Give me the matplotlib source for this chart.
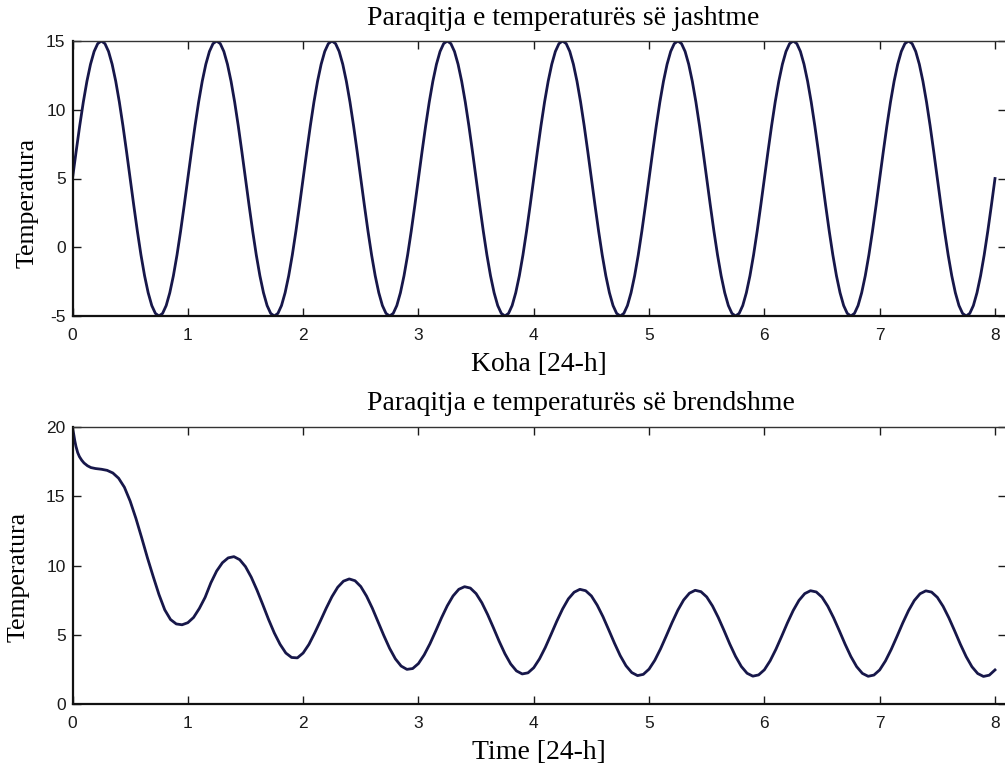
import numpy as np
import matplotlib
matplotlib.use("Agg")
import matplotlib.pyplot as plt

# outside temperature (32 samples per day)
temp_out = [
    5.0, 6.95, 8.83, 10.56, 12.07, 13.31, 14.24, 14.81, 15.0, 14.81, 14.24, 13.31, 12.07, 10.56, 8.83, 6.95,
    5.0, 3.05, 1.17, -0.56, -2.07, -3.31, -4.24, -4.81, -5.0, -4.81, -4.24, -3.31, -2.07, -0.56, 1.17, 3.05,
    5.0, 6.95, 8.83, 10.56, 12.07, 13.31, 14.24, 14.81, 15.0, 14.81, 14.24, 13.31, 12.07, 10.56, 8.83, 6.95,
    5.0, 3.05, 1.17, -0.56, -2.07, -3.31, -4.24, -4.81, -5.0, -4.81, -4.24, -3.31, -2.07, -0.56, 1.17, 3.05,
    5.0, 6.95, 8.83, 10.56, 12.07, 13.31, 14.24, 14.81, 15.0, 14.81, 14.24, 13.31, 12.07, 10.56, 8.83, 6.95,
    5.0, 3.05, 1.17, -0.56, -2.07, -3.31, -4.24, -4.81, -5.0, -4.81, -4.24, -3.31, -2.07, -0.56, 1.17, 3.05,
    5.0, 6.95, 8.83, 10.56, 12.07, 13.31, 14.24, 14.81, 15.0, 14.81, 14.24, 13.31, 12.07, 10.56, 8.83, 6.95,
    5.0, 3.05, 1.17, -0.56, -2.07, -3.31, -4.24, -4.81, -5.0, -4.81, -4.24, -3.31, -2.07, -0.56, 1.17, 3.05,
    5.0, 6.95, 8.83, 10.56, 12.07, 13.31, 14.24, 14.81, 15.0, 14.81, 14.24, 13.31, 12.07, 10.56, 8.83, 6.95,
    5.0, 3.05, 1.17, -0.56, -2.07, -3.31, -4.24, -4.81, -5.0, -4.81, -4.24, -3.31, -2.07, -0.56, 1.17, 3.05,
    5.0, 6.95, 8.83, 10.56, 12.07, 13.31, 14.24, 14.81, 15.0, 14.81, 14.24, 13.31, 12.07, 10.56, 8.83, 6.95,
    5.0, 3.05, 1.17, -0.56, -2.07, -3.31, -4.24, -4.81, -5.0, -4.81, -4.24, -3.31, -2.07, -0.56, 1.17, 3.05,
    5.0, 6.95, 8.83, 10.56, 12.07, 13.31, 14.24, 14.81, 15.0, 14.81, 14.24, 13.31, 12.07, 10.56, 8.83, 6.95,
    5.0, 3.05, 1.17, -0.56, -2.07, -3.31, -4.24, -4.81, -5.0, -4.81, -4.24, -3.31, -2.07, -0.56, 1.17, 3.05,
    5.0, 6.95, 8.83, 10.56, 12.07, 13.31, 14.24, 14.81, 15.0, 14.81, 14.24, 13.31, 12.07, 10.56, 8.83, 6.95,
    5.0, 3.05, 1.17, -0.56, -2.07, -3.31, -4.24, -4.81, -5.0, -4.81, -4.24, -3.31, -2.07, -0.56, 1.17, 3.05,
    5.0,
]
t_out = np.linspace(0, 8, len(temp_out))

# inside temperature
t_in_start = [0.0, 0.01, 0.02, 0.03, 0.045, 0.06, 0.08, 0.10, 0.13, 0.16, 0.20]
temp_in = [
    19.9, 19.5, 19.0, 18.6, 18.15, 17.86, 17.6, 17.4, 17.2, 17.07, 17.0,
    # 0.25 .. 0.95
    16.95, 16.87, 16.68, 16.3, 15.65, 14.65, 13.4, 12.0, 10.55, 9.2, 7.9, 6.8, 6.1, 5.78, 5.72,
    # 1.00 .. 1.95
    5.87, 6.25, 6.9, 7.7, 8.75, 9.6, 10.2, 10.55, 10.64, 10.42, 9.92, 9.16, 8.22, 7.18, 6.11, 5.13, 4.31, 3.68, 3.36, 3.33,
    # 2.00 .. 2.95
    3.68, 4.3, 5.12, 6.0, 6.91, 7.75, 8.43, 8.87, 9.03, 8.9, 8.48, 7.79, 6.92, 5.94, 4.94, 4.02, 3.26, 2.74, 2.5, 2.56,
    # 3.00 .. 3.95
    2.92, 3.55, 4.35, 5.27, 6.22, 7.09, 7.8, 8.28, 8.47, 8.37, 7.97, 7.31, 6.46, 5.51, 4.53, 3.63, 2.89, 2.39, 2.17, 2.25,
    # 4.00 .. 4.95
    2.62, 3.26, 4.08, 5.02, 5.98, 6.86, 7.59, 8.07, 8.28, 8.18, 7.8, 7.14, 6.31, 5.36, 4.39, 3.49, 2.76, 2.27, 2.05, 2.14,
    # 5.00 .. 5.95
    2.52, 3.16, 3.99, 4.93, 5.89, 6.78, 7.51, 8.0, 8.21, 8.11, 7.73, 7.08, 6.25, 5.31, 4.33, 3.44, 2.71, 2.22, 2.01, 2.1,
    # 6.00 .. 6.95
    2.47, 3.12, 3.95, 4.89, 5.86, 6.75, 7.48, 7.97, 8.18, 8.09, 7.71, 7.06, 6.23, 5.29, 4.32, 3.43, 2.7, 2.21, 2.0, 2.09,
    # 7.00 .. 7.95
    2.46, 3.11, 3.94, 4.88, 5.85, 6.74, 7.47, 7.96, 8.17, 8.08, 7.7, 7.05, 6.22, 5.28, 4.31, 3.42, 2.69, 2.2, 1.99, 2.08,
    # 8.00
    2.46,
]
t_in = np.concatenate([t_in_start, np.round(np.arange(0.25, 8.001, 0.05), 2)])

titles = ["Paraqitja e temperaturës së jashtme", "Paraqitja e temperaturës së brendshme"]
xlabels = ["Koha [24-h]", "Time [24-h]"]
ylabel = "Temperatura"
xticks = [0, 1, 2, 3, 4, 5, 6, 7, 8]

line_col = "#17174a"
serif = "Liberation Serif"
sans = "Liberation Sans"
plt.rcParams["axes.unicode_minus"] = False

fig = plt.figure(figsize=(10.05, 7.63), dpi=100)
W, H = 1005.0, 763.0
x0, x1 = 72.5, 1006.0
xmax = (x1 - x0) / ((995.0 - x0) / 8.0)

ax1 = fig.add_axes([x0 / W, 1 - 316 / H, (x1 - x0) / W, (316 - 41) / H])
ax2 = fig.add_axes([x0 / W, 1 - 704 / H, (x1 - x0) / W, (704 - 427) / H])

ax1.plot(t_out, temp_out, color=line_col, lw=2.0)
ax1.set_ylim(-5, 15)
ax1.set_yticks([-5, 0, 5, 10, 15])

ax2.plot(t_in, temp_in, color=line_col, lw=2.0)
ax2.set_ylim(0, 20)
ax2.set_yticks([0, 5, 10, 15, 20])

# title baseline (px from top) and ylabel placement per panel
title_base = [25, 410]
ylab_pos = [(-0.036, 0.411), (-0.046, 0.458)]
ax_top = [41, 427]
ax_h = [275, 277]

for i, (ax, ttl, xl) in enumerate(zip([ax1, ax2], titles, xlabels)):
    ax.set_xlim(0, xmax)
    ax.set_xticks(xticks)
    ax.tick_params(direction="in", length=6, width=1, top=True, right=True,
                   labelsize=12.5, colors="#1a1a1a")
    ax.tick_params(axis="x", pad=9)
    ax.tick_params(axis="y", pad=5)
    for lab in ax.get_xticklabels() + ax.get_yticklabels():
        lab.set_fontfamily(sans)
    ty = 1 + (ax_top[i] - title_base[i]) / ax_h[i]
    ax.text((367 - x0) / (x1 - x0), ty, ttl, transform=ax.transAxes,
            ha="left", va="baseline", fontfamily=serif, fontsize=20)
    ax.set_xlabel(xl, fontfamily=serif, fontsize=20, labelpad=6)
    ax.set_ylabel(ylabel, fontfamily=serif, fontsize=18.5)
    ax.yaxis.set_label_coords(*ylab_pos[i])
    for s in ["top", "right"]:
        ax.spines[s].set_linewidth(1.0)
        ax.spines[s].set_color("#333333")
    for s in ["bottom", "left"]:
        ax.spines[s].set_linewidth(1.6)
        ax.spines[s].set_color("#111111")

fig.savefig("out.png", dpi=100)
